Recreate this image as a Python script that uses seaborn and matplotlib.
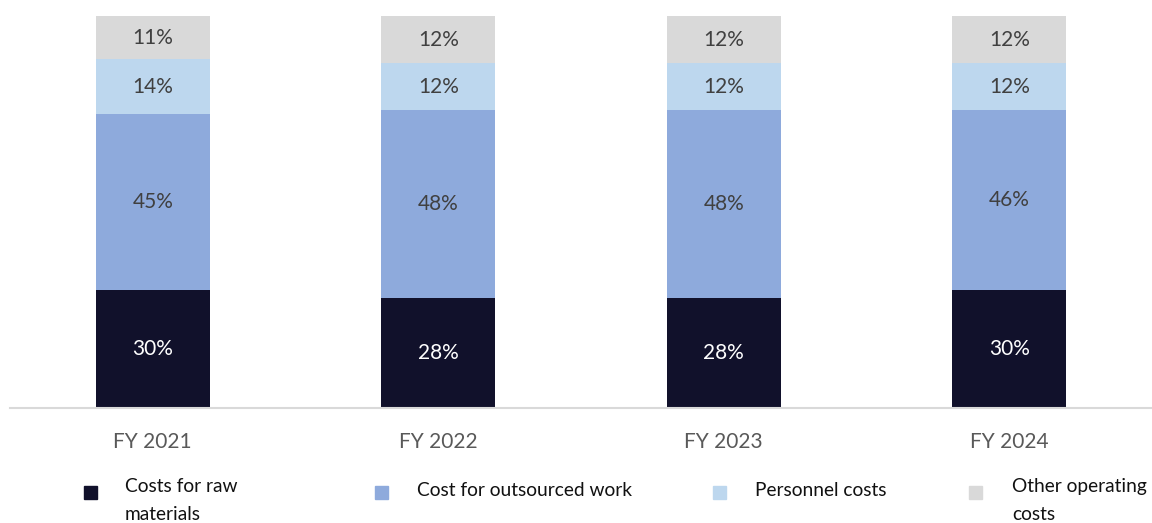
import numpy as np
import pandas as pd
import matplotlib
matplotlib.use("Agg")
import matplotlib.pyplot as plt
from matplotlib.patches import Rectangle
import seaborn as sns

# data
years = ["FY 2021", "FY 2022", "FY 2023", "FY 2024"]
raw_materials = [30, 28, 28, 30]
outsourced = [45, 48, 48, 46]
personnel = [14, 12, 12, 12]
other = [11, 12, 12, 12]

series_names = ["Costs for raw\nmaterials", "Cost for outsourced work",
                "Personnel costs", "Other operating\ncosts"]
colors = ["#11112b", "#8eaadc", "#bdd7ee", "#d9d9d9"]
label_colors = ["white", "#404040", "#404040", "#404040"]

sns.set_style("white")
plt.rcParams["font.family"] = ["Lato", "DejaVu Sans"]

fig = plt.figure(figsize=(11.52, 5.23), dpi=100)
ax = fig.add_axes([10 / 1152, 115 / 523, 1142 / 1152, 392 / 523])

layers = [raw_materials, outsourced, personnel, other]
cum = np.cumsum(np.array(layers), axis=0)

# stacked bars: draw cumulative totals from top down
for i in range(len(layers) - 1, -1, -1):
    df = pd.DataFrame({"year": years, "val": cum[i]})
    sns.barplot(data=df, x="year", y="val", color=colors[i], width=0.4,
                saturation=1, ax=ax, edgecolor="none")

# segment labels
for i, layer in enumerate(layers):
    for j, v in enumerate(layer):
        mid = cum[i][j] - v / 2
        ax.text(j, mid, f"{v}%", ha="center", va="center", fontsize=15,
                color=label_colors[i])

ax.set_xlim(-0.5, 3.5)
ax.set_ylim(0, 100)
ax.set_xlabel("")
ax.set_ylabel("")
ax.set_yticks([])
for s in ["top", "right", "left"]:
    ax.spines[s].set_visible(False)
ax.spines["bottom"].set_color("#d9d9d9")
ax.spines["bottom"].set_linewidth(1.5)
ax.tick_params(axis="x", length=0, pad=17, labelsize=15, labelcolor="#595959")

# legend drawn by hand
leg_marker_x = [84, 375, 713, 969]
leg_text_x = [125, 417, 755, 1012]
for k in range(4):
    fig.patches.append(Rectangle((leg_marker_x[k] / 1152, 24 / 523), 13 / 1152, 13 / 523,
                                 transform=fig.transFigure, color=colors[k]))
    if "\n" in series_names[k]:
        fig.text(leg_text_x[k] / 1152, 45 / 523, series_names[k], ha="left", va="top",
                 fontsize=13.8, color="#111111", linespacing=1.75)
    else:
        fig.text(leg_text_x[k] / 1152, 32 / 523, series_names[k], ha="left", va="center",
                 fontsize=13.8, color="#111111")

fig.savefig("out.png", dpi=100)
